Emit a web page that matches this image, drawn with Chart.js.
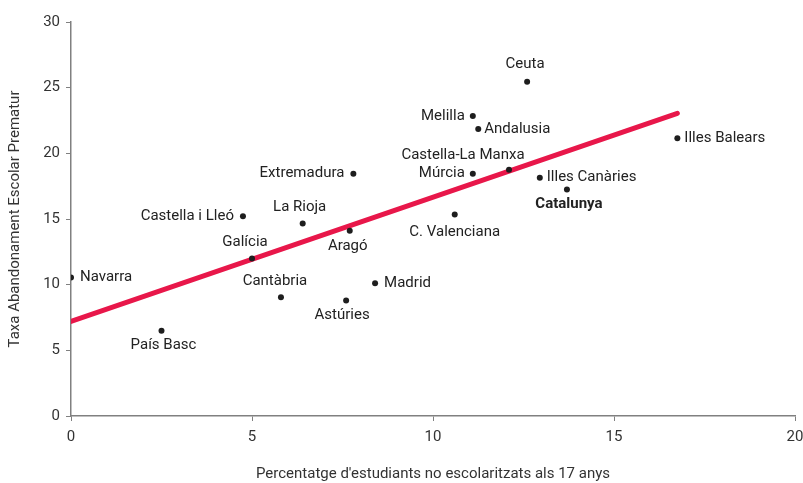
<!DOCTYPE html>
<html>
<head>
<meta charset="utf-8">
<script src="https://cdn.jsdelivr.net/npm/chart.js@4.4.1/dist/chart.umd.min.js"></script>
<style>
    html, body { margin: 0; padding: 0; background: #fff; }
</style>
</head>
<body>
<canvas id="chart" width="803" height="483"></canvas>
<script>
// data
const regions = ['Navarra', 'País Basc', 'Galícia', 'Castella i Lleó', 'La Rioja', 'Cantàbria',
    'Extremadura', 'Aragó', 'Astúries', 'Madrid', 'C. Valenciana', 'Múrcia', 'Melilla',
    'Andalusia', 'Ceuta', 'Castella-La Manxa', 'Illes Canàries', 'Catalunya', 'Illes Balears'];
const notEnrolled17 = [0, 2.5, 5.0, 4.75, 6.4, 5.8, 7.8, 7.7, 7.6, 8.4, 10.6, 11.1, 11.1,
    11.25, 12.6, 12.1, 12.95, 13.7, 16.75];
const earlyLeaving = [10.55, 6.5, 12.0, 15.2, 14.65, 9.05, 18.45, 14.1, 8.8, 10.1, 15.35, 18.45, 22.85,
    21.85, 25.45, 18.75, 18.15, 17.25, 21.15];
const trendX = [0, 16.75];
const trendY = [7.2, 23.05];
const xTicks = [0, 5, 10, 15, 20];
const yTicks = [0, 5, 10, 15, 20, 25, 30];

// where each label sits relative to its dot: side, dx, dy
const labelPlace = [
    ['r', 9, 0], ['b', 2, 15], ['t', -7, -16], ['l', -9, 0], ['t', -3, -16], ['t', -6, -16],
    ['l', -9, 0], ['b', -2, 15], ['b', -4, 15], ['r', 9, 0], ['b', 0, 18], ['l', -8, 0], ['l', -8, 0],
    ['r', 6, 0], ['t', -2, -18], ['t', -46, -15], ['r', 7, 0], ['b', 2, 15], ['r', 7, 0]
];
const boldLabels = ['Catalunya'];

const FONT = "Roboto, 'Open Sans', sans-serif";
const TEXT = '#333333';
const AXIS = '#808080';

const labelPlugin = {
    id: 'pointLabels',
    afterDatasetsDraw(chart) {
        const ctx = chart.ctx;
        const meta = chart.getDatasetMeta(0);
        ctx.save();
        ctx.fillStyle = '#222';
        ctx.textBaseline = 'middle';
        meta.data.forEach((pt, i) => {
            const [side, dx, dy] = labelPlace[i];
            const bold = boldLabels.includes(regions[i]);
            ctx.font = (bold ? 'bold ' : '') + '15px ' + FONT;
            ctx.textAlign = side === 'r' ? 'left' : side === 'l' ? 'right' : 'center';
            ctx.fillText(regions[i], pt.x + dx, pt.y + dy);
        });
        ctx.restore();
    }
};

new Chart(document.getElementById('chart'), {
    type: 'scatter',
    data: {
        datasets: [{
            data: notEnrolled17.map((x, i) => ({x: x, y: earlyLeaving[i]})),
            backgroundColor: '#1e1e1e',
            borderWidth: 0,
            pointRadius: 3,
            order: 0
        }, {
            data: trendX.map((x, i) => ({x: x, y: trendY[i]})),
            showLine: true,
            borderColor: '#e8174a',
            borderWidth: 5,
            borderCapStyle: 'round',
            pointRadius: 0,
            order: 1
        }]
    },
    options: {
        responsive: false,
        animation: false,
        layout: {padding: {top: 22, right: 0, left: 0, bottom: 0}},
        plugins: {legend: {display: false}, tooltip: {enabled: false}},
        scales: {
            x: {
                min: 0, max: 20,
                afterBuildTicks: s => { s.ticks = xTicks.map(v => ({value: v})); },
                afterFit: s => { s.height = 67; s.paddingRight = 8; s.paddingLeft = 0; },
                border: {color: AXIS, width: 1.5},
                grid: {drawOnChartArea: false, color: AXIS, tickLength: 5},
                ticks: {color: TEXT, font: {family: FONT, size: 15}, padding: 7},
                title: {display: true, text: "Percentatge d'estudiants no escolaritzats als 17 anys",
                    color: TEXT, font: {family: FONT, size: 15}, padding: {top: 4, bottom: 0}}
            },
            y: {
                min: 0, max: 30,
                afterBuildTicks: s => { s.ticks = yTicks.map(v => ({value: v})); },
                afterFit: s => { s.width = 71; },
                border: {color: AXIS, width: 1.5},
                grid: {drawOnChartArea: false, color: AXIS, tickLength: 5},
                ticks: {color: TEXT, font: {family: FONT, size: 15}, padding: 6},
                title: {display: true, text: 'Taxa Abandonament Escolar Prematur',
                    color: TEXT, font: {family: FONT, size: 15}, padding: {top: 6, bottom: 4}}
            }
        }
    },
    plugins: [labelPlugin]
});
</script>
</body>
</html>
